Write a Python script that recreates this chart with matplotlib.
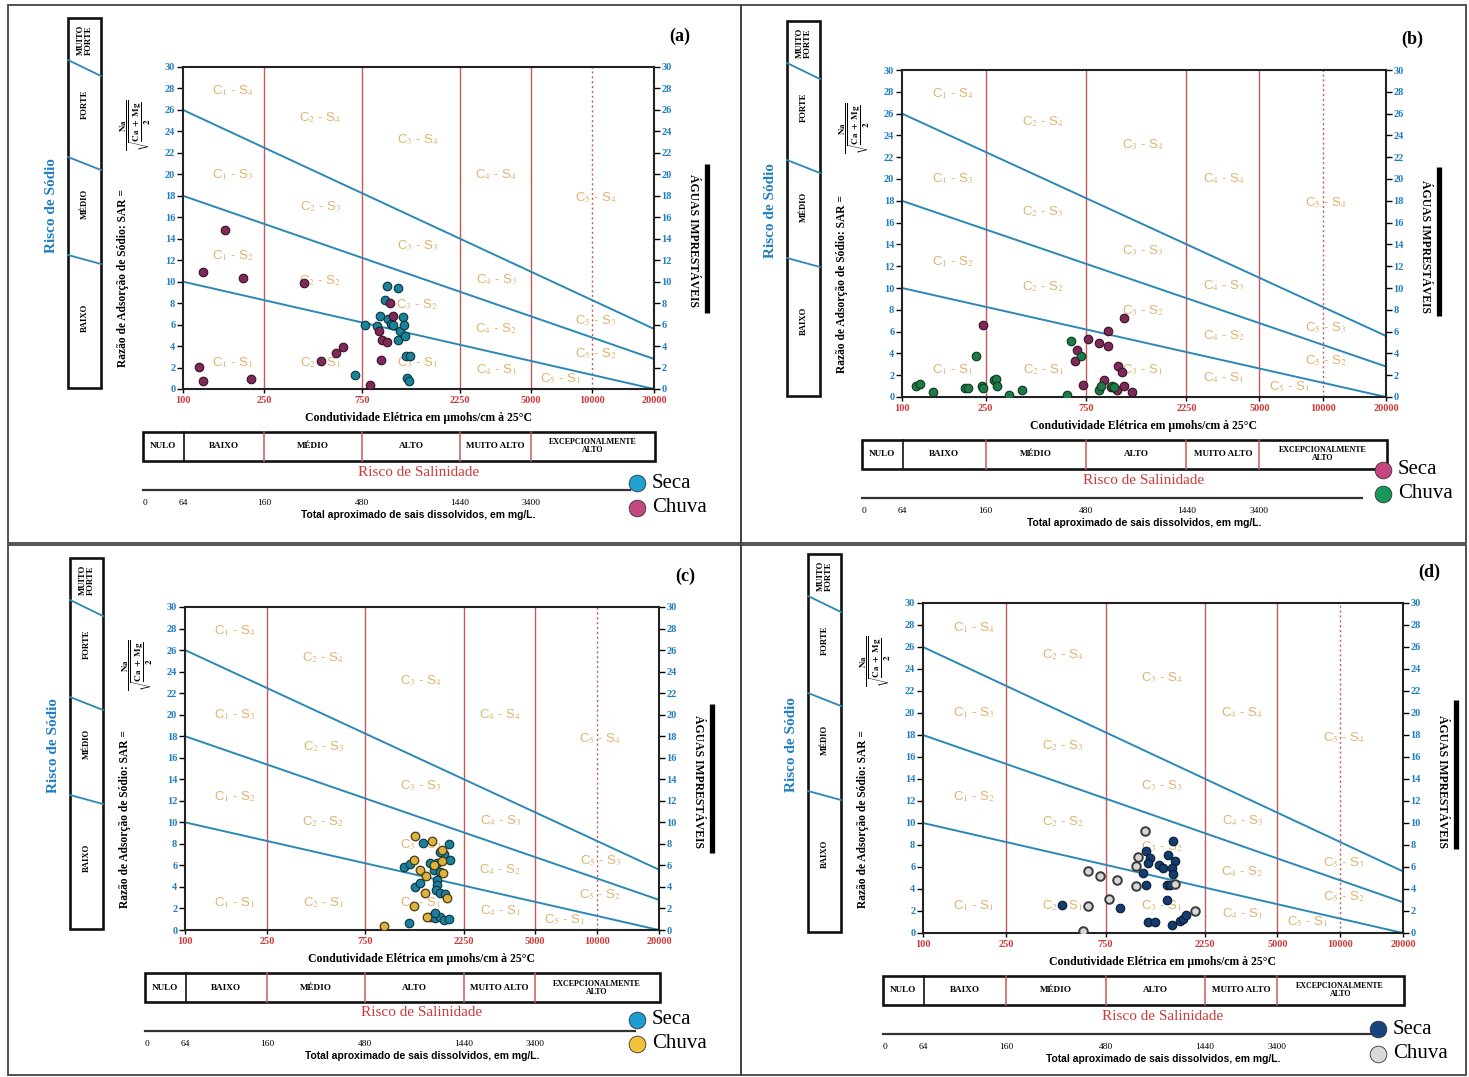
import numpy as np
import matplotlib
matplotlib.use("Agg")
import matplotlib.pyplot as plt
from matplotlib import transforms
from matplotlib.patches import Rectangle
from matplotlib.ticker import NullLocator

plt.rcParams['mathtext.fontset'] = 'stix'

# ---------------- data ----------------
ec_ticks = [100, 250, 750, 2250, 5000, 10000, 20000]
sar_ticks = list(range(0, 31, 2))
class_bounds = [250, 750, 2250, 5000]
dotted_bound = 10000
sar_line_ec = [100, 20000]
sar_line_s1s2 = [10, 0]
sar_line_s2s3 = [18, 2.8]
sar_line_s3s4 = [26, 5.6]
sodium_classes = ["MUITO\nFORTE", "FORTE", "MÉDIO", "BAIXO"]
salinity_classes = ["NULO", "BAIXO", "MÉDIO", "ALTO", "MUITO ALTO", "EXCEPCIONALMENTE\nALTO"]
salinity_edges_ec = [100, 250, 750, 2250, 5000]
tds_labels = ["0", "64", "160", "480", "1440", "3400"]
tds_pos_ec = [100, 250, 750, 2250, 5000]

zone_labels = ["C$_1$ - S$_4$", "C$_2$ - S$_4$", "C$_3$ - S$_4$", "C$_4$ - S$_4$", "C$_5$ - S$_4$",
               "C$_1$ - S$_3$", "C$_2$ - S$_3$", "C$_3$ - S$_3$", "C$_4$ - S$_3$", "C$_5$ - S$_3$",
               "C$_1$ - S$_2$", "C$_2$ - S$_2$", "C$_3$ - S$_2$", "C$_4$ - S$_2$", "C$_5$ - S$_2$",
               "C$_1$ - S$_1$", "C$_2$ - S$_1$", "C$_3$ - S$_1$", "C$_4$ - S$_1$", "C$_5$ - S$_1$"]
zone_ec = [175, 470, 1400, 3400, 10400,
           175, 470, 1400, 3400, 10400,
           175, 470, 1400, 3400, 10400,
           175, 470, 1400, 3400, 7000]
zone_sar = [27.8, 25.3, 23.2, 20.0, 17.8,
            20.0, 17.0, 13.4, 10.2, 6.4,
            12.4, 10.1, 7.9, 5.6, 3.3,
            2.5, 2.5, 2.5, 1.8, 1.0]

# (a)
a_seca_ec = [689, 771, 891, 918, 967, 995, 1003, 1042, 1065, 1122, 1122, 1148, 1188, 1195, 1214, 1227, 1284, 1241, 1274]
a_seca_sar = [1.34, 5.97, 5.84, 6.84, 8.33, 9.57, 6.53, 6.06, 6.0, 9.45, 4.57, 5.44, 6.7, 5.97, 4.97, 3.1, 3.1, 1.0, 0.7]
a_chuva_ec = [120, 125, 125, 161, 196, 214, 392, 474, 561, 604, 821, 904, 925, 938, 988, 1026, 1057]
a_chuva_sar = [2.02, 0.7, 10.9, 14.8, 10.3, 0.9, 9.85, 2.6, 3.36, 3.9, 0.37, 5.4, 2.7, 4.55, 4.4, 8.0, 6.8]
# (b)
b_seca_ec = [243, 661, 676, 729, 768, 868, 950, 950, 910, 981, 1056, 1064, 1111, 1132, 1140, 1240, 1010]
b_seca_sar = [6.6, 3.27, 4.28, 1.13, 5.31, 4.95, 6.08, 4.64, 1.59, 0.92, 0.61, 2.87, 2.26, 7.24, 1.04, 0.49, 0.9]
b_chuva_ec = [116, 122, 141, 199, 207, 224, 239, 242, 274, 279, 284, 323, 370, 608, 637, 713, 861, 883, 996, 1020]
b_chuva_sar = [0.98, 1.19, 0.43, 0.82, 0.82, 3.73, 1.04, 0.82, 1.53, 1.65, 1.04, 0.21, 0.61, 0.21, 5.10, 3.73, 0.61, 1.04, 1.04, 0.92]
# (c)
c_seca_ec = [1219, 1431, 1905, 1815, 1928, 1151, 1231, 1611, 1722, 1674, 1674, 1312, 1387, 1660, 1722, 1838,
             1553, 1642, 1722, 1815, 1919, 1642, 1541, 1674, 1738]
c_seca_sar = [0.62, 8.09, 7.96, 7.1, 6.48, 5.86, 6.17, 5.56, 5.4, 4.63, 4.17, 4.0, 4.32, 3.7, 3.46, 3.33,
              1.23, 1.08, 1.23, 0.93, 0.99, 1.54, 6.2, 6.2, 7.2]
c_chuva_ec = [921, 1303, 1581, 1769, 1290, 1387, 1611, 1769, 1790, 1486, 1460, 1290, 1871, 1496]
c_chuva_sar = [0.37, 8.7, 8.27, 7.47, 6.48, 5.56, 6.02, 6.42, 5.31, 5.0, 3.46, 2.22, 2.93, 1.23]
# (d)
d_seca_ec = [462, 880, 1172, 1225, 1203, 1130, 1172, 1358, 1409, 1500, 1585, 1614, 1556, 1585, 1472, 1528,
             1472, 1194, 1294, 1556, 1706, 1770, 1823]
d_seca_sar = [2.58, 2.27, 7.42, 6.82, 6.36, 5.45, 4.39, 6.21, 5.9, 7.06, 8.33, 6.52, 5.9, 5.36, 4.39, 4.39,
              3.03, 1.0, 1.0, 0.76, 1.12, 1.30, 1.61]
d_chuva_ec = [588, 615, 620, 705, 781, 848, 1050, 1050, 1077, 1159, 1614, 2013]
d_chuva_sar = [0.21, 5.67, 2.42, 5.15, 3.09, 4.79, 4.24, 6.06, 6.88, 9.3, 4.45, 1.97]

series_names = ["Seca", "Chuva"]

# ---------------- layout / style ----------------
W, H = 1469, 1077
SERIF = ['Liberation Serif', 'DejaVu Serif']
SANS = ['Liberation Sans', 'DejaVu Sans']
BLUE_TXT = '#1f7fc4'
RED_TXT = '#cc3b3b'
RED_LINE = '#c65a5a'
BLUE_LINE = '#2b88b6'
ZONE_COL = '#e2b26e'

panels = [
    dict(tag='(a)', L=183, R=654, T=67, B=389, frame=(8, 5, 741, 543),
         seca=(a_seca_ec, a_seca_sar), chuva=(a_chuva_ec, a_chuva_sar),
         s_face='#1b8399', s_edge='#0b3540', c_face='#7e2a58', c_edge='#3a0f27', c_lw=0.8,
         s_leg='#1ea2d2', c_leg='#c4487f', leg=(-17, 94, 119)),
    dict(tag='(b)', L=902, R=1386, T=70, B=397, frame=(741, 5, 1466, 543),
         seca=(b_seca_ec, b_seca_sar), chuva=(b_chuva_ec, b_chuva_sar),
         s_face='#7e2a58', s_edge='#3a0f27', c_face='#1f7a47', c_edge='#0b3a1f', c_lw=0.8,
         s_leg='#c8467f', c_leg='#17975a', leg=(-3, 73, 97)),
    dict(tag='(c)', L=185, R=659, T=607, B=930, frame=(8, 545, 741, 1075),
         seca=(c_seca_ec, c_seca_sar), chuva=(c_chuva_ec, c_chuva_sar),
         s_face='#1b809c', s_edge='#0b3542', c_face='#dbb33e', c_edge='#4a3a10', c_lw=0.9,
         s_leg='#1d9cd2', c_leg='#f2c23a', leg=(-22, 90, 114)),
    dict(tag='(d)', L=923, R=1403, T=603, B=933, frame=(741, 545, 1466, 1075),
         seca=(d_seca_ec, d_seca_sar), chuva=(d_chuva_ec, d_chuva_sar),
         s_face='#133d6e', s_edge='#081a33', c_face='#d6d6d6', c_edge='#3a3a3a', c_lw=1.4,
         s_leg='#17437f', c_leg='#d9d9d9', leg=(-25, 96, 121)),
]

fig = plt.figure(figsize=(W / 100, H / 100), dpi=100)
fig.patch.set_facecolor('white')
ov = fig.add_axes([0, 0, 1, 1])
ov.set_xlim(0, W)
ov.set_ylim(H, 0)
ov.set_autoscale_on(False)
ov.axis('off')


def draw_panel(p):
    L, R, T, B = p['L'], p['R'], p['T'], p['B']
    fx0, fy0, fx1, fy1 = p['frame']
    ov.add_patch(Rectangle((fx0, fy0), fx1 - fx0, fy1 - fy0, fill=False, lw=1.3, ec='#444444'))

    ax = fig.add_axes([L / W, 1 - B / H, (R - L) / W, (B - T) / H])
    ax.set_xscale('log')
    ax.set_xlim(100, 20000)
    ax.set_ylim(0, 30)
    ax.set_xticks(ec_ticks)
    ax.set_xticklabels([str(v) for v in ec_ticks])
    ax.xaxis.set_minor_locator(NullLocator())
    ax.set_yticks(sar_ticks)
    for sp in ax.spines.values():
        sp.set_linewidth(1.5)
        sp.set_color('#222222')
    ax.tick_params(axis='y', which='major', left=True, right=True, labelleft=True, labelright=True,
                   length=4, width=1.0, labelcolor=BLUE_TXT, labelsize=7.5, pad=1.5)
    ax.tick_params(axis='x', which='major', length=3, width=1.0, labelcolor=RED_TXT, labelsize=7.5, pad=2)
    for lab in ax.get_xticklabels() + ax.get_yticklabels():
        lab.set_fontfamily(SERIF)
        lab.set_fontweight('bold')
    for t in ax.yaxis.get_major_ticks():
        t.label2.set_fontfamily(SERIF)
        t.label2.set_fontweight('bold')
        t.label2.set_color(BLUE_TXT)

    for v in class_bounds:
        ax.axvline(v, color=RED_LINE, lw=1.0, zorder=1)
    ax.axvline(dotted_bound, color=RED_LINE, lw=1.0, ls=(0, (1.5, 2)), zorder=1)
    for vals in (sar_line_s1s2, sar_line_s2s3, sar_line_s3s4):
        ax.plot(sar_line_ec, vals, color=BLUE_LINE, lw=1.4, zorder=2)
    for lab, x, y in zip(zone_labels, zone_ec, zone_sar):
        ax.text(x, y, lab, color=ZONE_COL, fontsize=9.5, ha='center', va='center',
                family=SANS, zorder=1.5)

    ax.scatter(p['seca'][0], p['seca'][1], s=38, facecolor=p['s_face'], edgecolor=p['s_edge'],
               linewidth=0.8, zorder=4)
    ax.scatter(p['chuva'][0], p['chuva'][1], s=38, facecolor=p['c_face'], edgecolor=p['c_edge'],
               linewidth=p['c_lw'], zorder=5)

    # ---- left: sodium risk box ----
    bx0, bx1 = L - 115, L - 82
    by0, by1 = T - 49, B - 1
    ov.add_patch(Rectangle((bx0, by0), bx1 - bx0, by1 - by0, fill=False, lw=1.9, ec='#111111'))
    for d0, d1 in ((42, 58), (139, 152), (237, 246)):
        ov.plot([bx0, bx1], [by0 + d0, by0 + d1], color=BLUE_LINE, lw=1.3)
    for lab, dy in zip(sodium_classes, (22, 86, 186, 300)):
        ov.text((bx0 + bx1) / 2, by0 + dy, lab, rotation=90, ha='center', va='center',
                fontsize=6.2, fontweight='bold', family=SERIF, linespacing=0.95)
    ov.text(L - 131, T + 0.43 * (B - T), "Risco de Sódio", rotation=90, ha='center', va='center',
            fontsize=11, fontweight='bold', family=SERIF, color=BLUE_TXT)
    ov.text(L - 60, T + 0.655 * (B - T), "Razão de Adsorção de Sódio: SAR =",
            rotation=90, ha='center', va='center', fontsize=8.3, fontweight='bold', family=SERIF)
    ov.text(L - 47, T + 58,
            r"$\dfrac{\mathbf{Na}}{\sqrt{\dfrac{\mathbf{Ca\ +\ Mg}}{\mathbf{2}}}}$",
            rotation=90, ha='center', va='center', fontsize=6.5)

    # ---- right ----
    ov.text(R + 39, T + 0.54 * (B - T), "ÁGUAS IMPRESTÁVEIS", rotation=270, ha='center', va='center',
            fontsize=8.5, fontweight='bold', family=SERIF)
    ov.plot([R + 53, R + 53], [T + 97, T + 246], color='black', lw=3.8, solid_capstyle='butt')
    ov.text(R + 26, T - 31, p['tag'], ha='center', va='center', fontsize=13, fontweight='bold', family=SERIF)

    # ---- bottom ----
    ov.text((L + R) / 2, B + 29, "Condutividade Elétrica em µmohs/cm à 25°C", ha='center', va='center',
            fontsize=8.5, fontweight='bold', family=SERIF)
    bt = transforms.blended_transform_factory(ax.transData, ov.transData)
    sy0, sy1 = B + 43, B + 72
    sx0 = L - 40
    ov.add_patch(Rectangle((sx0, sy0), R + 1 - sx0, sy1 - sy0, fill=False, lw=1.9, ec='#111111'))
    ov.plot([L + 1, L + 1], [sy0, sy1], color='#111111', lw=1.2)
    for e in salinity_edges_ec[1:]:
        ov.plot([e, e], [sy0, sy1], color=RED_LINE, lw=1.1, transform=bt)
    disp = [bt.transform((e, 0))[0] for e in salinity_edges_ec[1:] + [20000]]
    inv = ov.transData.inverted()
    xs_px = [sx0, L] + [inv.transform((d, 0))[0] for d in disp]
    for i, lab in enumerate(salinity_classes):
        cx = (xs_px[i] + xs_px[i + 1]) / 2
        ov.text(cx, (sy0 + sy1) / 2, lab, ha='center', va='center', fontsize=6.6 if i < 5 else 5.8,
                fontweight='bold', family=SERIF, linespacing=1.0)
    ov.text((L + R) / 2, B + 83, "Risco de Salinidade", ha='center', va='center', fontsize=11,
            family=SERIF, color=RED_TXT)
    ty = B + 101
    ov.plot([sx0, R - 24], [ty, ty], color='#333333', lw=1.6)
    ov.text(sx0 + 2, B + 114, tds_labels[0], ha='center', va='center', fontsize=6.8, family=SERIF)
    for lab, e in zip(tds_labels[1:], tds_pos_ec):
        ov.text(e, B + 114, lab, ha='center', va='center', fontsize=6.8, family=SERIF, transform=bt)
    ov.text((L + R) / 2, B + 126, "Total aproximado de sais dissolvidos, em mg/L.", ha='center',
            va='center', fontsize=7.4, fontweight='bold', family=SANS)

    # ---- legend ----
    mx, my1, my2 = p['leg']
    ov.plot([R + mx], [B + my1], 'o', ms=12, mfc=p['s_leg'], mec='#333333', mew=0.6)
    ov.plot([R + mx], [B + my2], 'o', ms=12, mfc=p['c_leg'], mec='#333333', mew=0.6)
    ov.text(R + mx + 15, B + my1, series_names[0], ha='left', va='center', fontsize=15, family=SERIF)
    ov.text(R + mx + 15, B + my2, series_names[1], ha='left', va='center', fontsize=15, family=SERIF)


for p in panels:
    draw_panel(p)

fig.savefig("out.png", dpi=100, facecolor='white')
